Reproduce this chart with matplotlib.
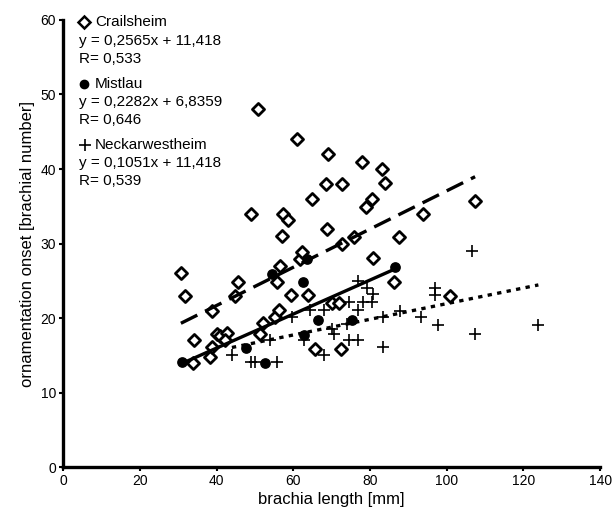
import matplotlib
matplotlib.use("Agg")
import matplotlib.pyplot as plt
import numpy as np

plt.rcParams['font.family'] = ['Liberation Sans', 'DejaVu Sans']

# Crailsheim (open diamonds)
crail_x = [30.7, 31.8, 33.8, 34.0, 38.3, 38.8, 38.8, 40.0, 40.8, 42.8, 42.3,
           44.8, 45.7, 49.0, 50.9, 51.2, 52.0, 55.3, 55.7, 56.4, 56.6, 57.0,
           57.3, 58.5, 59.4, 61.1, 61.8, 62.2, 63.8, 65.0, 65.7, 68.6, 68.7,
           69.0, 70.0, 71.8, 72.5, 72.7, 72.7, 75.9, 77.9, 79.0, 80.6, 80.9,
           83.2, 83.9, 86.3, 87.6, 93.8, 100.9, 107.4]
crail_y = [26.0, 22.9, 14.0, 17.0, 14.8, 16.1, 20.9, 17.9, 17.6, 18.0, 17.0,
           22.9, 24.9, 33.9, 48.0, 17.9, 19.3, 20.2, 24.9, 21.1, 27.0, 31.0,
           34.0, 33.1, 23.1, 44.0, 27.9, 28.9, 23.1, 36.0, 15.9, 38.0, 32.0,
           42.0, 22.0, 22.0, 15.9, 29.9, 38.0, 30.9, 41.0, 34.9, 36.0, 28.0,
           40.0, 38.1, 24.9, 30.9, 34.0, 23.0, 35.7]

# Mistlau (filled circles)
mist_x = [30.9, 47.8, 52.5, 54.4, 62.5, 63.5, 62.8, 66.5, 75.3, 86.5]
mist_y = [14.1, 16.0, 14.0, 25.9, 24.8, 27.9, 17.7, 19.8, 19.8, 26.8]

# Neckarwestheim (plus)
neck_x = [44.0, 49.0, 50.0, 55.7, 54.0, 59.6, 64.4, 67.9, 62.8, 68.1, 70.0,
          70.5, 74.0, 74.6, 76.8, 77.0, 74.4, 78.3, 80.5, 80.9, 79.2, 77.0,
          83.5, 83.5, 87.9, 93.3, 97.0, 97.0, 97.8, 106.5, 107.4, 123.9]
neck_y = [15.0, 14.1, 14.1, 14.1, 17.0, 20.2, 21.1, 21.1, 17.0, 15.0, 18.5,
          17.9, 19.2, 17.0, 17.0, 21.1, 22.1, 22.1, 22.1, 23.2, 24.0, 25.0,
          20.2, 16.1, 20.9, 20.1, 24.0, 23.1, 19.1, 29.0, 17.9, 19.1]

# regression coefficients (slope, intercept) as printed
crail_fit = (0.2565, 11.418)
mist_fit = (0.2282, 6.8359)
neck_fit = (0.1051, 11.418)

fig = plt.figure(figsize=(6.13, 5.14), dpi=100)
ax = fig.add_axes([0.103, 0.0914, 0.876, 0.8697])

ax.scatter(crail_x, crail_y, marker='D', s=38, facecolors='white',
           edgecolors='black', linewidths=2.0, zorder=3)
ax.scatter(mist_x, mist_y, marker='o', s=45, color='black', zorder=4)
ax.scatter(neck_x, neck_y, marker='+', s=70, color='black', linewidths=1.2, zorder=4)

def fitline(xs, fit):
    xx = np.array([min(xs), max(xs)])
    return xx, fit[0] * xx + fit[1]

xx, yy = fitline(crail_x, crail_fit)
ax.plot(xx, yy, color='black', lw=2.4, ls=(0, (5.5, 2.6)), zorder=5)
xx, yy = fitline(mist_x, mist_fit)
ax.plot(xx, yy, color='black', lw=2.4, ls='-', zorder=5)
xx, yy = fitline(neck_x, neck_fit)
ax.plot(xx, yy, color='black', lw=2.4, ls=(0, (1.3, 1.6)), zorder=5)

ax.set_xlim(0, 140)
ax.set_ylim(0, 60)
ax.set_xticks(range(0, 141, 20))
ax.set_yticks(range(0, 61, 10))
for s in ['top', 'right']:
    ax.spines[s].set_visible(False)
for s in ['left', 'bottom']:
    ax.spines[s].set_linewidth(2.4)
ax.tick_params(direction='out', length=3, width=1.5, labelsize=10, pad=2)
ax.set_xlabel('brachia length [mm]', fontsize=12, labelpad=3)
ax.set_ylabel('ornamentation onset [brachial number]', fontsize=12, labelpad=4)

def fy(py):
    return 1 - py / 514.0

tf = fig.transFigure
fs = 11
lines = [
    (95, 22, 'Crailsheim'), (79, 41, 'y = 0,2565x + 11,418'), (79, 59, 'R= 0,533'),
    (95, 84, 'Mistlau'), (79, 102, 'y = 0,2282x + 6,8359'), (79, 120, 'R= 0,646'),
    (95, 145, 'Neckarwestheim'), (79, 163, 'y = 0,1051x + 11,418'), (79, 181, 'R= 0,539'),
]
for px, py, t in lines:
    fig.text(px / 613.0, fy(py), t, fontsize=fs, va='center', ha='left')
fig.lines.append(plt.Line2D([84 / 613.0], [fy(22)], transform=tf, marker='D',
                            markersize=6, markerfacecolor='white',
                            markeredgecolor='black', markeredgewidth=1.8))
fig.lines.append(plt.Line2D([84 / 613.0], [fy(84)], transform=tf, marker='o',
                            markersize=6, color='black'))
fig.lines.append(plt.Line2D([85 / 613.0], [fy(145)], transform=tf, marker='+',
                            markersize=8, color='black', markeredgewidth=1.2))

fig.savefig('out.png', dpi=100)
